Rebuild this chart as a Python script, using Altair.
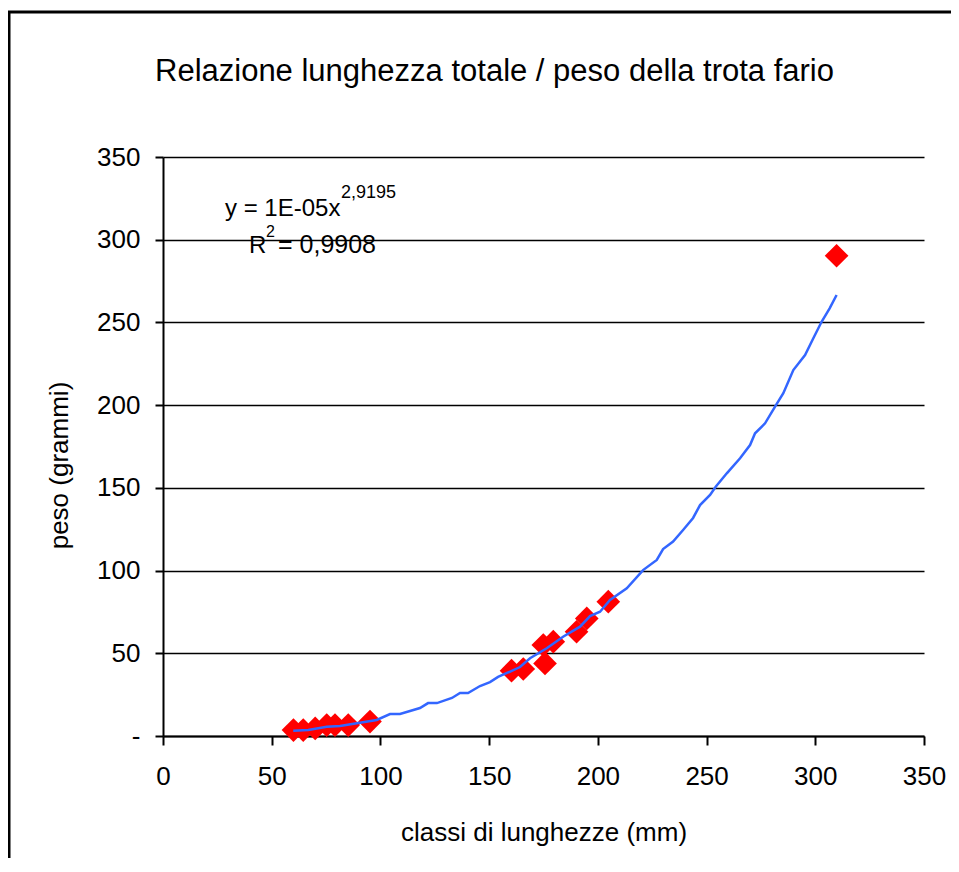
import altair as alt
import pandas as pd

# Observed fish (length mm, weight g)
lengths = [60, 64.5, 70, 75.3, 79.1, 85.2, 95.2, 160.3, 165.7, 174.9, 179.5, 175.7, 190.2, 194.9, 204.8, 309.8]
weights = [3.6, 3.6, 4.6, 6.6, 6.6, 6.6, 8.7, 39.5, 40.5, 55.0, 57.0, 43.9, 63.0, 71.1, 81.2, 290.3]

# Fitted (power) curve as drawn
fit_x = [59.9, 66.8, 75.3, 81.4, 89.1, 98.3, 104.4, 109, 118.2, 121.9, 126, 132.9, 136.6, 140.3,
         145.8, 150.4, 154.1, 158.2, 164.2, 168.8, 176.5, 184, 191.8, 196.4, 201, 205.6, 213.3,
         220.8, 227.1, 230, 234.6, 239.2, 243.8, 247, 251.6, 254.2, 259.3, 265.4, 270, 272.3,
         276.9, 281.5, 285.3, 289.9, 295.3, 299.1, 302.9, 306.6, 309.8]
fit_y = [3.2, 3.6, 5.6, 6.0, 7.7, 9.7, 13.3, 13.3, 16.9, 19.9, 19.9, 23.0, 26.0, 26.0,
         30.2, 32.6, 35.7, 38.1, 41.7, 47.0, 53.0, 60.0, 66.1, 72.5, 75.1, 82.2, 89.3,
         100.3, 106.4, 113.0, 117.5, 124.5, 131.8, 139.6, 145.7, 150.7, 158.8, 167.9, 175.9, 183.0,
         189.0, 199.1, 207.2, 221.2, 230.3, 240.4, 250.4, 258.5, 266.6]

tick_values = [0, 50, 100, 150, 200, 250, 300, 350]

title_text = "Relazione lunghezza totale / peso della trota fario"
x_title = "classi di lunghezze (mm)"
y_title = "peso (grammi)"
eq_main = "y = 1E-05x"
eq_exp = "2,9195"
r_main = "R"
r_exp = "2"
r_val = "= 0,9908"

FONT = "Liberation Sans"

pts = pd.DataFrame({"lunghezza": lengths, "peso": weights})
fit = pd.DataFrame({"lunghezza": fit_x, "peso": fit_y})
dummy = pd.DataFrame({"d": [0]})

xs = alt.Scale(domain=[0, 350], nice=False)
ys = alt.Scale(domain=[0, 350], nice=False)

x_axis = alt.Axis(values=tick_values, title=x_title, grid=False, tickSize=9, tickWidth=2,
                  domainWidth=2, labelPadding=18, titlePadding=30, labelFlush=False)
y_axis = alt.Axis(values=tick_values, title=y_title, grid=True, tickSize=8, tickWidth=2,
                  domainWidth=2, labelPadding=15, titleX=-91, titleY=308,
                  labelExpr="datum.value == 0 ? '-' : datum.label")

points = alt.Chart(pts).mark_point(shape="diamond", filled=True, color="#FF0000",
                                   size=560, opacity=1).encode(
    x=alt.X("lunghezza:Q", scale=xs, axis=x_axis),
    y=alt.Y("peso:Q", scale=ys, axis=y_axis),
)

line = alt.Chart(fit).mark_line(color="#3366FF", strokeWidth=2.5).encode(
    x=alt.X("lunghezza:Q", scale=xs),
    y=alt.Y("peso:Q", scale=ys),
)

def label(txt, x, y, size):
    return alt.Chart(dummy).mark_text(text=txt, font=FONT, fontSize=size, align="left",
                                      baseline="alphabetic", color="black").encode(
        x=alt.value(x), y=alt.value(y))

border = alt.Chart(dummy).mark_rect(fillOpacity=0, stroke="black", strokeWidth=3).encode(
    x=alt.value(-154), x2=alt.value(900), y=alt.value(-145), y2=alt.value(800))

chart = alt.layer(
    border,
    points,
    line,
    label(title_text, -8, -76, 31),
    label(eq_main, 62, 59, 24),
    label(eq_exp, 178, 41, 18),
    label(r_main, 86, 96, 24),
    label(r_exp, 103, 80, 16),
    label(r_val, 115, 96, 25),
).properties(
    width=761, height=579,
    padding={"left": 155, "top": 149, "right": 27, "bottom": 122},
    autosize=alt.AutoSizeParams(type="none"),
).configure_view(stroke=None).configure_axis(
    labelFont=FONT, titleFont=FONT, labelFontSize=26, titleFontSize=26,
    titleFontWeight="normal", labelColor="black", titleColor="black",
    domainColor="black", tickColor="black", gridColor="black", gridWidth=1.5, gridOpacity=1,
)

chart.save("out.html", embed_options={"renderer": "svg", "actions": False})
